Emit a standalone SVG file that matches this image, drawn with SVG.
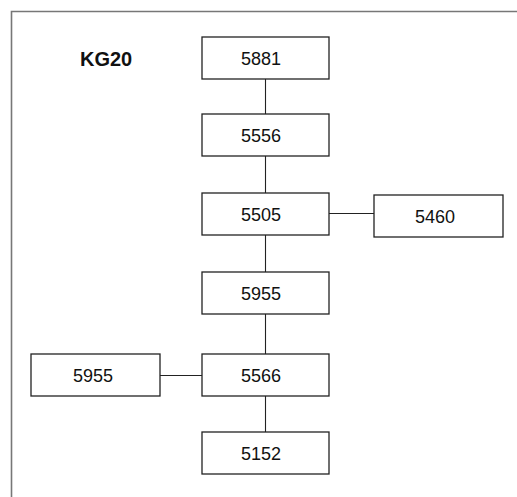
<svg xmlns="http://www.w3.org/2000/svg" width="517" height="497" viewBox="0 0 517 497">
<style>
.box rect{fill:#fff;stroke:#222;stroke-width:1.3}
.box text{font-family:"Liberation Sans",Arial,sans-serif;font-size:18px;fill:#111;text-anchor:middle}
.conn line{stroke:#222;stroke-width:1.1}
</style>
<rect width="517" height="497" fill="#fff"/>
<path d="M11.5,497 V11.5 H517" fill="none" stroke="#777" stroke-width="1.6"/>
<text x="80" y="66" font-family="Liberation Sans,Arial,sans-serif" font-size="20" font-weight="bold" fill="#111">KG20</text>
<g class="conn">
<line x1="265.5" y1="79" x2="265.5" y2="114"/>
<line x1="265.5" y1="156" x2="265.5" y2="193"/>
<line x1="265.5" y1="235" x2="265.5" y2="272"/>
<line x1="265.5" y1="314" x2="265.5" y2="354"/>
<line x1="265.5" y1="396" x2="265.5" y2="432"/>
<line x1="329" y1="213.5" x2="374" y2="213.5"/>
<line x1="160" y1="375.5" x2="202" y2="375.5"/>
</g>
<g id="n5881" class="box"><rect x="202" y="37" width="127" height="42"/><text x="261" y="64.5">5881</text></g>
<g id="n5556" class="box"><rect x="202" y="114" width="127" height="42"/><text x="261" y="141.5">5556</text></g>
<g id="n5505" class="box"><rect x="202" y="193" width="127" height="42"/><text x="261" y="220.5">5505</text></g>
<g id="n5460" class="box"><rect x="374" y="195" width="129" height="42"/><text x="435" y="222.5">5460</text></g>
<g id="n5955a" class="box"><rect x="202" y="272" width="127" height="42"/><text x="261" y="299.5">5955</text></g>
<g id="n5566" class="box"><rect x="202" y="354" width="127" height="42"/><text x="261" y="381.5">5566</text></g>
<g id="n5955b" class="box"><rect x="31" y="354" width="129" height="42"/><text x="93" y="381.5">5955</text></g>
<g id="n5152" class="box"><rect x="202" y="432" width="127" height="42"/><text x="261" y="459.5">5152</text></g>
</svg>
